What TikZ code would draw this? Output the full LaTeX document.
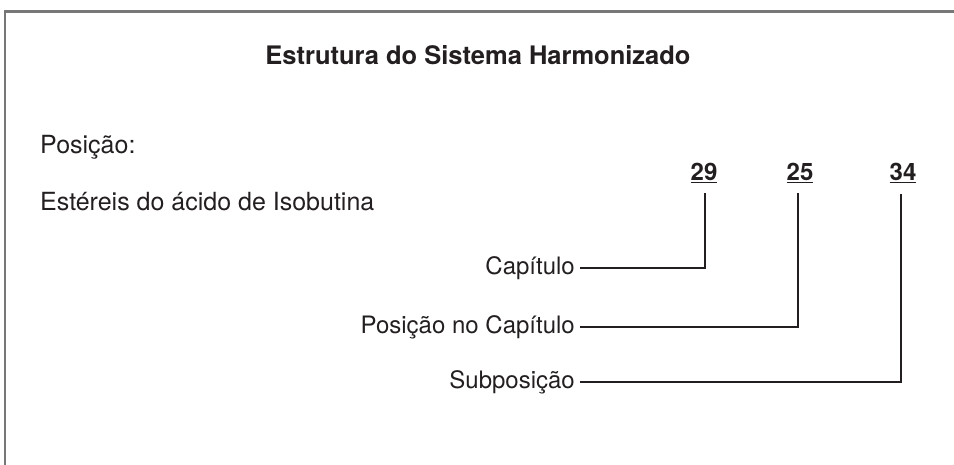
\documentclass[tikz,border=0pt]{standalone}
\usepackage{fontspec}
\setmainfont{TeX Gyre Heros}
\definecolor{framegray}{HTML}{777777}
\definecolor{ink}{HTML}{231F20}
\begin{document}
\begin{tikzpicture}[x=1pt,y=-1pt,
  lbl/.style={inner sep=0pt,text=ink,font=\fontsize{24}{28}\selectfont},
  lefttxt/.style={inner sep=0pt,text=ink,font=\fontsize{25}{29}\selectfont,anchor=base west},
  num/.style={inner sep=0pt,text=ink,font=\fontsize{24}{28}\selectfont\bfseries,anchor=base},
  conn/.style={draw=ink,line width=2.4pt},
  frame/.style={draw=framegray,line width=2.5pt}]
\useasboundingbox (0,0) rectangle (954,465);
% frame (open at right and bottom)
\coordinate (ftl) at (5,11.5);
\coordinate (fbl) at (5,466);
\coordinate (ftr) at (955,11.5);
\draw[frame] (fbl) -- (ftl) -- (ftr);
% title
\node[inner sep=0pt,text=ink,anchor=base,font=\fontsize{25.5}{30}\selectfont\bfseries] (title) at (478,65) {Estrutura do Sistema Harmonizado};
% left texts
\node[lefttxt] (pos) at (40,154) {Posição:};
\node[lefttxt] (est) at (40,211) {Estéreis do ácido de Isobutina};
% numbers
\node[num] (n29) at (704,181) {\underline{29}};
\node[num] (n25) at (800,181) {\underline{25}};
\node[num] (n34) at (903,181) {\underline{34}};
% labels
\node[lbl,anchor=east] (cap) at (575,268) {Capítulo};
\node[lbl,anchor=east] (poscap) at (575,327) {Posição no Capítulo};
\node[lbl,anchor=east] (sub) at (575,382) {Subposição};
% connectors
\coordinate (t29) at (705,193);
\coordinate (t25) at (798,193);
\coordinate (t34) at (901,194);
\draw[conn] (t29) |- ([xshift=5pt]cap.east);
\draw[conn] (t25) |- ([xshift=5pt]poscap.east);
\draw[conn] (t34) |- ([xshift=5pt]sub.east);
\end{tikzpicture}
\end{document}
